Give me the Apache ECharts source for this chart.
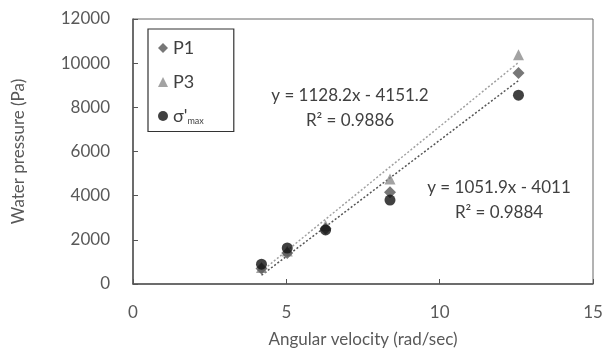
<!DOCTYPE html>
<html>
<head>
<meta charset="utf-8">
<script src="https://cdn.jsdelivr.net/npm/echarts@6/dist/echarts.min.js"></script>
<style>
  html, body { margin: 0; padding: 0; background: #fff; }
  #chart { width: 614px; height: 354px; }
</style>
</head>
<body>
<div id="chart"></div>
<script>
// Angular velocity (rad/sec)
const omega = [4.19, 5.03, 6.28, 8.38, 12.57];
// Water pressure (Pa)
const p1 = [700, 1400, 2500, 4150, 9550];
const p3 = [750, 1500, 2650, 4750, 10380];
const sigmaMax = [900, 1630, 2450, 3800, 8550];

// Linear trend lines: y = slope * x + intercept
const p1Slope = 1051.9, p1Intercept = -4011, p1R2 = 0.9884;
const p3Slope = 1128.2, p3Intercept = -4151.2, p3R2 = 0.9886;

const xTicks = { min: 0, max: 15, interval: 5 };
const yTicks = { min: 0, max: 12000, interval: 2000 };

const FONT = 'Lato, "Open Sans", sans-serif';
const TXT = '#595959';

const xLo = Math.min(...omega), xHi = Math.max(...omega);
const trend = (m, b) => [[xLo, m * xLo + b], [xHi, m * xHi + b]];
const eqText = (m, b) => 'y = ' + m + 'x - ' + Math.abs(b);

const pairs = ys => omega.map((x, i) => [x, ys[i]]);

const chart = echarts.init(document.getElementById('chart'), null, { renderer: 'canvas' });
chart.setOption({
  animation: false,
  backgroundColor: '#fff',
  textStyle: { fontFamily: FONT },
  grid: {
    left: 133, right: 21, top: 19, bottom: 70,
    show: true, borderColor: '#666', borderWidth: 1, backgroundColor: 'transparent'
  },
  xAxis: {
    type: 'value', min: xTicks.min, max: xTicks.max, interval: xTicks.interval,
    name: 'Angular velocity (rad/sec)', nameLocation: 'middle', nameGap: 47,
    nameTextStyle: { color: TXT, fontSize: 17, fontFamily: FONT },
    axisLine: { show: true, lineStyle: { color: '#555', width: 1.5 } },
    axisTick: { show: true, inside: true, length: 5, lineStyle: { color: '#555' } },
    axisLabel: { color: TXT, fontSize: 17, margin: 20, fontFamily: FONT, formatter: v => String(v) },
    splitLine: { show: false }
  },
  yAxis: {
    type: 'value', min: yTicks.min, max: yTicks.max, interval: yTicks.interval,
    name: 'Water pressure (Pa)', nameLocation: 'middle', nameGap: 106,
    nameTextStyle: { color: TXT, fontSize: 17, fontFamily: FONT },
    axisLine: { show: true, lineStyle: { color: '#555', width: 1.5 } },
    axisTick: { show: true, inside: true, length: 5, lineStyle: { color: '#555' } },
    axisLabel: { color: TXT, fontSize: 17, margin: 23, fontFamily: FONT, formatter: v => String(v) },
    splitLine: { show: false }
  },
  legend: {
    orient: 'vertical', left: 148, top: 29,
    width: 92, height: 107,
    padding: [10, 30, 6, 10],
    itemGap: 16, itemWidth: 10, itemHeight: 10,
    borderColor: '#333', borderWidth: 1.2,
    backgroundColor: '#fff',
    data: [
      { name: 'P1', icon: 'diamond' },
      { name: 'P3', icon: 'triangle' },
      { name: "σ'max", icon: 'circle' }
    ],
    formatter: n => n === "σ'max" ? "σ'{sub|max}" : n,
    textStyle: {
      color: '#404040', fontSize: 18, fontFamily: FONT,
      rich: { sub: { fontSize: 9, color: '#404040', padding: [10, 0, 0, 0], fontFamily: FONT } }
    }
  },
  series: [
    {
      name: 'P3 trend', type: 'line', data: trend(p3Slope, p3Intercept),
      symbol: 'none', silent: true, z: 1,
      lineStyle: { color: '#a0a0a0', width: 1.5, type: [2, 2] }
    },
    {
      name: 'P1 trend', type: 'line', data: trend(p1Slope, p1Intercept),
      symbol: 'none', silent: true, z: 1,
      lineStyle: { color: '#555', width: 1.5, type: [2, 2] }
    },
    {
      name: 'P3', type: 'scatter', data: pairs(p3), symbol: 'triangle', symbolSize: 11,
      itemStyle: { color: '#8c8c8c' }, z: 2
    },
    {
      name: 'P1', type: 'scatter', data: pairs(p1), symbol: 'diamond', symbolSize: 12,
      itemStyle: { color: '#555' }, z: 3
    },
    {
      name: "σ'max", type: 'scatter', data: pairs(sigmaMax), symbol: 'circle', symbolSize: 11,
      itemStyle: { color: '#111' }, z: 4
    }
  ],
  graphic: [
    {
      type: 'text', silent: true, z: 10,
      style: {
        x: 350, y: 108, text: eqText(p3Slope, p3Intercept) + '\nR² = ' + p3R2,
        fill: '#404040', font: '17px ' + FONT, textAlign: 'center', textVerticalAlign: 'middle',
        lineHeight: 25
      }
    },
    {
      type: 'text', silent: true, z: 10,
      style: {
        x: 499, y: 200, text: eqText(p1Slope, p1Intercept) + '\nR² = ' + p1R2,
        fill: '#404040', font: '17px ' + FONT, textAlign: 'center', textVerticalAlign: 'middle',
        lineHeight: 25
      }
    }
  ]
});
</script>
</body>
</html>
